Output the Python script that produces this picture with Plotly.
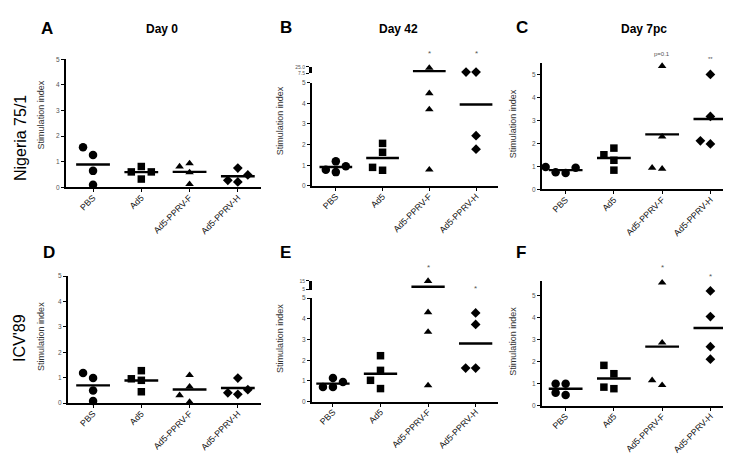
import plotly.graph_objects as go

W, H = 731, 454

categories = ["PBS", "Ad5", "Ad5-PPRV-F", "Ad5-PPRV-H"]
symbols = ["circle", "square", "triangle-up", "diamond"]
msizes = [8.5, 7.5, 7.5, 7.5]

# ---- data (stimulation index), one list per group: PBS, Ad5, Ad5-PPRV-F, Ad5-PPRV-H
A_values = [[1.56, 1.26, 0.64, 0.10], [0.60, 0.81, 0.60, 0.32], [0.93, 0.81, 0.58, 0.12], [0.75, 0.48, 0.21, 0.27]]
A_means = [0.89, 0.59, 0.60, 0.43]
B_values = [[0.95, 1.19, 0.67, 0.79], [2.06, 1.63, 0.76, 0.90], [22.0, 4.48, 3.70, 0.79], [11.0, 11.0, 2.43, 1.78]]
B_means = [0.92, 1.35, 13.5, 3.94]
C_values = [[0.93, 0.71, 0.97, 0.74], [1.79, 1.50, 1.26, 0.83], [5.36, 2.29, 0.89, 0.93], [5.00, 3.17, 1.97, 2.11]]
C_means = [0.83, 1.36, 2.39, 3.06]
D_values = [[0.99, 1.19, 0.50, 0.09], [0.96, 0.90, 1.28, 0.45], [1.10, 0.65, 0.31, 0.05], [0.99, 0.53, 0.35, 0.41]]
D_means = [0.70, 0.89, 0.54, 0.60]
E_values = [[0.95, 1.14, 0.71, 0.71], [2.22, 1.51, 1.03, 0.63], [14.7, 4.32, 3.37, 0.78], [4.29, 3.73, 1.62, 1.62]]
E_means = [0.87, 1.35, 8.3, 2.81]
F_values = [[1.00, 1.00, 0.49, 0.60], [1.84, 1.46, 0.78, 0.85], [5.60, 2.87, 0.94, 1.16], [5.22, 4.06, 2.69, 2.12]]
F_means = [0.78, 1.24, 2.69, 3.54]

B_signif = ["", "", "*", "*"]
C_signif = ["", "", "p=0.1", "**"]
E_signif = ["", "", "*", "*"]
F_signif = ["", "", "*", "*"]

FONT = "Arial, Liberation Sans, sans-serif"

# ---- layout geometry (pixels)
panels = [
    dict(key="A", vals=A_values, means=A_means, box=(58, 253, 48, 178), xr=(-0.56, 3.48), yr=(0, 5)),
    dict(key="B", vals=B_values, means=B_means, box=(304, 490, 71.7, 176.7), xr=(-0.51, 3.47), yr=(0, 5),
         upper=dict(box=(55.7, 62.3), yr=(7.5, 25), tv=[7.5, 25], tt=["7.5", "25.0"]),
         sig=B_signif, sigpx=[None, None, 42, 42]),
    dict(key="C", vals=C_values, means=C_means, box=(534, 727, 51.7, 180), xr=(-0.49, 3.51), yr=(0, 5.5),
         sig=C_signif, sigpx=[None, None, 43, 48]),
    dict(key="D", vals=D_values, means=D_means, box=(60, 253, 268.3, 397.3), xr=(-0.52, 3.48), yr=(0, 5)),
    dict(key="E", vals=E_values, means=E_means, box=(304, 490, 290.7, 395.7), xr=(-0.44, 3.47), yr=(0, 5),
         upper=dict(box=(273, 282), yr=(5, 15), tv=[5, 15], tt=["5", "15"]),
         sig=E_signif, sigpx=[None, None, 260, 281]),
    dict(key="F", vals=F_values, means=F_means, box=(534, 727, 273.3, 400), xr=(-0.49, 3.51), yr=(0, 5.67),
         sig=F_signif, sigpx=[None, None, 260, 269]),
]


def px2x(p):
    return p / W


def px2y(p):
    return 1 - p / H


def swarm(vals, px_per_unit, w=8.5):
    placed = []
    offs = [0] * len(vals)
    order = sorted(range(len(vals)), key=lambda i: vals[i])
    for i in order:
        y = vals[i] * px_per_unit
        for k in [0, -1, 1, -2, 2, -3, 3]:
            if all(not (o == k and abs(y - py) < w) for py, o in placed):
                offs[i] = k
                placed.append((y, k))
                break
    return offs


fig = go.Figure()
layout = dict(width=W, height=H, margin=dict(l=0, r=0, t=0, b=0), paper_bgcolor="white",
              plot_bgcolor="white", showlegend=False, font=dict(family=FONT, color="black"))
annotations = []

extra_axis = 7
for n, p in enumerate(panels, start=1):
    x0, x1, ytop, ybot = p["box"]
    xs = "" if n == 1 else str(n)
    xname, yname = "x" + xs, "y" + xs
    spacing_px = (x1 - x0) / (p["xr"][1] - p["xr"][0])
    step = 10.0 / spacing_px
    ppu = (ybot - ytop) / (p["yr"][1] - p["yr"][0])
    ymax_lower = p["yr"][1]

    layout["xaxis" + xs] = dict(domain=[px2x(x0), px2x(x1)], range=list(p["xr"]), anchor=yname,
                                tickvals=[0, 1, 2, 3], ticktext=categories, tickangle=-45,
                                showline=True, linewidth=2, linecolor="black", ticks="outside",
                                ticklen=3, tickwidth=1.2, tickcolor="black", showgrid=False,
                                zeroline=False, ticklabelstandoff=-3,
                                tickfont=dict(size=8.8, color="#111", family=FONT))
    layout["yaxis" + xs] = dict(domain=[px2y(ybot), px2y(ytop)], range=list(p["yr"]), anchor=xname,
                                tickvals=[0, 1, 2, 3, 4, 5], showline=True, linewidth=2,
                                linecolor="black", ticks="outside", ticklen=3, tickwidth=1.2,
                                tickcolor="black", showgrid=False, zeroline=False,
                                tickfont=dict(size=6.5, color="#555", family=FONT))
    up_name = None
    if "upper" in p:
        u = p["upper"]
        ua = str(extra_axis)
        extra_axis += 1
        up_name = "y" + ua
        uppu = (u["box"][1] - u["box"][0]) / (u["yr"][1] - u["yr"][0])
        layout["yaxis" + ua] = dict(domain=[px2y(u["box"][1]), px2y(u["box"][0])], range=list(u["yr"]),
                                    anchor=xname, tickvals=u["tv"], ticktext=u["tt"], showline=True,
                                    linewidth=3, linecolor="black", ticks="outside", ticklen=3,
                                    tickcolor="black", showgrid=False, zeroline=False,
                                    tickfont=dict(size=5, color="#555", family=FONT))

    for ci, vals in enumerate(p["vals"]):
        low = [v for v in vals if v <= ymax_lower]
        high = [v for v in vals if v > ymax_lower]
        groups = [(low, yname, ppu)]
        if high and up_name:
            groups.append((high, up_name, uppu))
        for gv, ya, sc in groups:
            if not gv:
                continue
            offs = swarm(gv, sc)
            fig.add_trace(go.Scatter(x=[ci + o * step for o in offs], y=gv, mode="markers",
                                     xaxis=xname, yaxis=ya, cliponaxis=False, hoverinfo="skip",
                                     marker=dict(symbol=symbols[ci], size=msizes[ci],
                                                 color="black", line=dict(width=0))))
        m = p["means"][ci]
        ya = up_name if (m > ymax_lower and up_name) else yname
        fig.add_trace(go.Scatter(x=[ci - 0.35, ci + 0.35], y=[m, m], mode="lines", xaxis=xname,
                                 yaxis=ya, cliponaxis=False, hoverinfo="skip",
                                 line=dict(color="black", width=2.4)))

    if "sig" in p:
        for ci, s in enumerate(p["sig"]):
            if s:
                annotations.append(dict(text=s, x=ci, xref=xname, y=px2y(p["sigpx"][ci]), yref="paper",
                                        showarrow=False, font=dict(size=6 if s != "*" else 8, color="#555"),
                                        xanchor="center", yanchor="middle"))

layout["annotations"] = annotations
fig.update_layout(**layout)

# panel letters, titles, axis titles, row labels
letters = [("A", 39, 17), ("B", 278, 16), ("C", 514, 16), ("D", 41, 244), ("E", 277, 244), ("F", 513, 244)]
for t, x, y in letters:
    fig.add_annotation(text="<b>%s</b>" % t, x=px2x(x), y=px2y(y), xref="paper", yref="paper",
                       showarrow=False, font=dict(size=17, family=FONT), xanchor="center", yanchor="middle")
titles = [("Day 0", 154, 17), ("Day 42", 390, 17), ("Day 7pc", 636, 17)]
for t, x, y in titles:
    fig.add_annotation(text="<b>%s</b>" % t, x=px2x(x), y=px2y(y), xref="paper", yref="paper",
                       showarrow=False, font=dict(size=12, family=FONT), xanchor="center", yanchor="middle")
ytitles = [(33, 105), (272, 111), (505, 114), (33, 330), (272, 332), (505, 335)]
for x, y in ytitles:
    fig.add_annotation(text="Stimulation index", x=px2x(x), y=px2y(y), xref="paper", yref="paper",
                       textangle=-90, showarrow=False, font=dict(size=9, color="#333", family=FONT),
                       xanchor="center", yanchor="middle")
rows = [("Nigeria 75/1", 12, 128), ("ICV'89", 12, 331)]
for t, x, y in rows:
    fig.add_annotation(text=t, x=px2x(x), y=px2y(y), xref="paper", yref="paper", textangle=-90,
                       showarrow=False, font=dict(size=16, family=FONT), xanchor="center", yanchor="middle")

fig.write_html("out.html")
